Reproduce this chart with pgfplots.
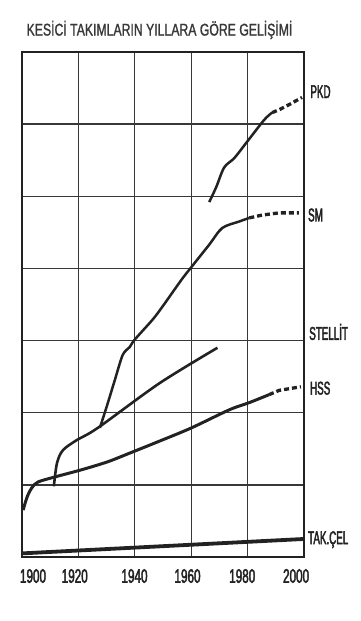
\documentclass[border=0pt]{standalone}
\usepackage{pgfplots}
\pgfplotsset{compat=1.18}
\usepackage{fontspec}
\setmainfont{Liberation Sans}
\newfontfamily\titlefont{Liberation Sans}[FakeStretch=0.72,FakeBold=1.2]
\newfontfamily\labfont{Liberation Sans}[FakeStretch=0.53,FakeBold=2.2]
\newfontfamily\yearfont{Liberation Sans}[FakeStretch=0.6,FakeBold=2.2]
\definecolor{ink}{HTML}{222222}
\begin{document}
\begin{tikzpicture}[x=1pt,y=1pt]
\useasboundingbox (0,0) rectangle (360,621);
\begin{axis}[at={(22pt,64pt)}, anchor=south west, scale only axis,
  width=282pt, height=505pt,
  xmin=1900, xmax=2000, ymin=0, ymax=7,
  xtick={1900,1920,...,2000}, ytick={0,1,...,7},
  xticklabels={}, yticklabels={}, major tick length=0pt,
  grid=major, grid style={line width=1.3pt, ink!90},
  axis line style={line width=2pt, ink},
  clip=false]
% TAK.CEL
\addplot[ink, line width=3.8pt] coordinates {(1900,0.05) (1940,0.13) (2000,0.25)};
% HSS
\addplot[ink, line width=3pt, smooth] coordinates {
 (1900.4,0.65) (1901.8,0.83) (1903.5,0.96) (1905.7,1.04) (1911.7,1.11)
 (1921.2,1.21) (1930.4,1.32) (1938.2,1.44) (1949.0,1.61) (1960.1,1.79)
 (1973.5,2.04) (1980.6,2.14) (1987.6,2.25)};
\addplot[ink, line width=3.3pt, dash pattern=on 5pt off 3pt] coordinates {
 (1987.6,2.25) (1991.2,2.31) (1998.9,2.36)};
% STELLIT
\addplot[ink, line width=2.6pt, smooth] coordinates {
 (1911.3,0.98) (1912.4,1.30) (1914.5,1.48) (1919.4,1.62) (1926.9,1.79)
 (1948.8,2.41) (1969.3,2.90)};
% SM
\addplot[ink, line width=2.5pt, smooth] coordinates {
 (1927.6,1.79) (1930.0,2.08) (1932.9,2.45) (1935.7,2.80) (1938.2,2.91)
 (1939.9,3.01) (1946.3,3.29) (1949.8,3.47) (1956.5,3.84) (1960.1,4.02)
 (1966.4,4.33) (1971.0,4.56) (1977.0,4.65) (1980.6,4.70)};
\addplot[ink, line width=3.3pt, dash pattern=on 5pt off 3pt] coordinates {
 (1980.6,4.70) (1985.2,4.74) (1991.2,4.77) (1998.2,4.77)};
% PKD
\addplot[ink, line width=2.5pt, smooth] coordinates {
 (1966.4,4.92) (1968.9,5.13) (1971.7,5.40) (1975.3,5.53) (1979.9,5.76)
 (1985.9,6.06) (1988.7,6.16)};
\addplot[ink, line width=3.3pt, dash pattern=on 5pt off 3pt] coordinates {
 (1988.7,6.16) (1991.2,6.20) (1994.7,6.27) (1999.3,6.37)};
% series labels
\begin{scope}[every node/.style={anchor=west, inner sep=0pt, text=ink,
   font=\labfont\fontsize{18.5}{18.5}\selectfont}]
\node at (axis cs:2002.2,6.45) {PKD};
\node at (axis cs:2001.4,4.74) {SM};
\node at (axis cs:2001.8,3.12) {STELLİT};
\node at (axis cs:2002.1,2.34) {HSS};
\node at (axis cs:2001.4,0.24) {TAK.ÇEL};
\end{scope}
% year labels
\begin{scope}[every node/.style={inner sep=0pt, text=ink,
   font=\yearfont\fontsize{19.5}{19.5}\selectfont}]
\node at (axis cs:1903.9,-0.264) {1900};
\node at (axis cs:1918.7,-0.264) {1920};
\node at (axis cs:1939.9,-0.264) {1940};
\node at (axis cs:1958.7,-0.264) {1960};
\node at (axis cs:1978.1,-0.264) {1980};
\node at (axis cs:1997.2,-0.264) {2000};
\end{scope}
\end{axis}
\node[inner sep=0pt, text=ink!90, font=\titlefont\fontsize{17}{17}\selectfont]
  at (159.5,591) {KESİCİ TAKIMLARIN YILLARA GÖRE GELİŞİMİ};
\end{tikzpicture}
\end{document}
